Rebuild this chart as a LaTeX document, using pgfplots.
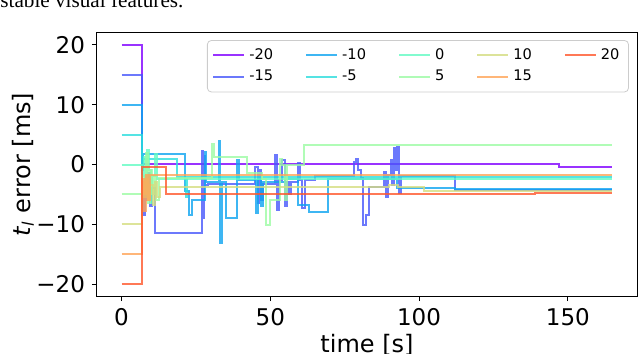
\documentclass[border=0pt]{standalone}
\usepackage{pgfplots}
\pgfplotsset{compat=1.18}
\usepackage{fontspec}
\setmainfont{DejaVu Sans}
\newfontfamily\capfont{Liberation Serif}
\definecolor{c1}{RGB}{128,0,255}
\definecolor{c2}{RGB}{71,87,251}
\definecolor{c3}{RGB}{14,164,240}
\definecolor{c4}{RGB}{43,221,221}
\definecolor{c5}{RGB}{99,251,195}
\definecolor{c6}{RGB}{156,251,164}
\definecolor{c7}{RGB}{212,221,128}
\definecolor{c8}{RGB}{255,164,87}
\definecolor{c9}{RGB}{255,87,44}
\pgfplotsset{ser/.style={const plot, no marks, line width=1pt, opacity=0.8, forget plot}}
\begin{document}
\begin{tikzpicture}
\path[use as bounding box] (-48.5pt,-28.5pt) rectangle (271.5pt,148pt);
\node[anchor=base west, inner sep=0pt, font=\capfont\fontsize{10.6}{12}\selectfont] at (-48.5pt,144.4pt) {stable visual features.};
\begin{axis}[
  at={(0,0)}, anchor=south west, scale only axis, width=270pt, height=131.5pt,
  xmin=-8.25, xmax=173.25, ymin=-22, ymax=22,
  xtick={0,50,100,150}, ytick={-20,-10,0,10,20},
  yticklabels={−20,−10,0,10,20},
  tick pos=left, tick align=outside, major tick length=2.5pt,
  every tick/.style={black, line width=0.5pt},
  axis line style={line width=0.5pt},
  /pgf/number format/assume math mode=true,
  ticklabel style={font=\fontsize{11.5}{12}\selectfont},
  xlabel={time [s]}, ylabel={\textit{t}\textsubscript{\textit{l}} error [ms]},
  label style={font=\fontsize{12}{13}\selectfont},
  xlabel style={at={(axis description cs:0.5,-0.213)}, anchor=base},
  ylabel style={at={(axis description cs:-0.124,0.5)}, anchor=base},
  legend style={at={(axis description cs:0.985,0.973)}, anchor=north east,
    legend columns=5, font=\fontsize{7.3}{8.8}\selectfont,
    draw=black!20, rounded corners=2pt, fill=white, fill opacity=0.8,
    text opacity=1, draw opacity=1, inner xsep=2.5pt, inner ysep=2pt,
    /tikz/every even column/.append style={column sep=14pt}},
  legend cell align=left,
  legend image code/.code={\draw[#1, line width=1pt, draw opacity=0.8, sharp corners] (0pt,0pt) -- (15.5pt,0pt);},
]
\addplot[ser, c1] coordinates {(0,20)(6.8,0.1)(147,-0.4)(165,-0.4)};
\addplot[ser, c2] coordinates {(0,15)(6.8,-3)(7.3,-8.5)(7.8,-2)(8.3,-6)(9,-1.5)(9.5,-7)(10.2,-4)(11.2,-11.5)(27,2.2)(27.4,-9)(27.8,1.5)(28.2,-3.5)(29,-3.3)(45,-0.5)(45.7,-6.5)(46.3,-1)(47,-6)(47.6,-3.3)(51.7,1.6)(52.4,-7.6)(53,-2.6)(54,0.8)(54.8,-7)(55.5,-3)(56.3,-5)(57,-3)(59.3,0.2)(60,-2.6)(60.5,-7.2)(61.5,-2.6)(65,-2.0)(78.2,0.5)(78.8,1.0)(79.5,-1)(80.4,-2.2)(81,-10.1)(82,-8.5)(83.2,-3.7)(88.2,-1.2)(88.8,-5.4)(89.4,-1.8)(90.4,0.8)(91,-3.5)(91.6,2.8)(92.2,-1)(92.7,3.0)(93.2,-4.8)(93.8,-2.0)(112,-4.3)(165,-4.3)};
\addplot[ser, c3] coordinates {(0,10)(6.8,-1)(7.3,1.7)(21.3,-4.5)(22.7,-8.4)(23.8,-5.9)(28,2.1)(28.5,-3)(32.7,4.0)(33.2,-13.2)(33.8,-3)(35,-9)(38.9,0.75)(39.5,-2.6)(45.3,-8.1)(46,-2.5)(47,-7)(47.6,-3)(55,-2.5)(59.3,-6.8)(63,-8.0)(69.3,-2.4)(92.7,-4.0)(112,-4.1)(165,-4.1)};
\addplot[ser, c4] coordinates {(0,5)(6.8,-0.5)(7.2,1.0)(18.8,-2.1)(21.5,-5.5)(22,-2.1)(165,-2.1)};
\addplot[ser, c5] coordinates {(0,0)(6.8,-2)(7.4,1.2)(7.9,-4)(8.6,2.5)(9.2,-1)(9.8,-6.5)(10.4,-2)(11.2,1.8)(12,-2.4)(165,-2.4)};
\addplot[ser, c6] coordinates {(0,-5)(6.8,-2)(7.5,-5.5)(8.1,2.0)(8.8,-6.5)(9.5,-1)(10.2,-5)(11,-2)(11.7,-6)(12.5,-2.3)(30.4,3.5)(31,1.3)(42.1,-1.5)(47.1,-2.5)(48.5,-10.1)(49.9,-5.9)(53.2,1.0)(54,-0.1)(55,-5.9)(55.6,-0.1)(61.3,3.25)(165,3.25)};
\addplot[ser, c7] coordinates {(0,-10)(6.8,-3)(7.5,-5)(8.3,-2.5)(9,-6)(9.7,-3.5)(10.5,-6.8)(11.3,-3)(12,-5.5)(12.8,-3.7)(90,-3.4)(93,-3.7)(101.6,-4.4)(165,-4.4)};
\addplot[ser, c8] coordinates {(0,-15)(6.8,-2.5)(7.5,-7.8)(8.3,-1.7)(9,-6)(9.6,-1.7)(165,-1.7)};
\addplot[ser, c9] coordinates {(0,-20)(6.8,-0.5)(15,-5.0)(139,-4.8)(165,-4.8)};
\addlegendimage{c1}\addlegendentry{-20}
\addlegendimage{c3}\addlegendentry{-10}
\addlegendimage{c5}\addlegendentry{0}
\addlegendimage{c7}\addlegendentry{10}
\addlegendimage{c9}\addlegendentry{20}
\addlegendimage{c2}\addlegendentry{-15}
\addlegendimage{c4}\addlegendentry{-5}
\addlegendimage{c6}\addlegendentry{5}
\addlegendimage{c8}\addlegendentry{15}
\end{axis}
\end{tikzpicture}
\end{document}
